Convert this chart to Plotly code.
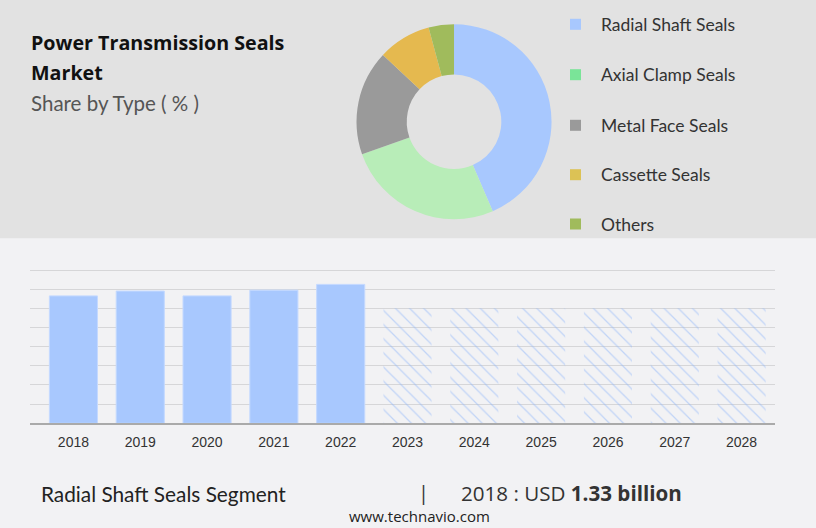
import plotly.graph_objects as go

# Donut data: share by type (%)
segments = ["Radial Shaft Seals", "Axial Clamp Seals", "Metal Face Seals", "Cassette Seals", "Others"]
shares = [43.5, 26.1, 17.4, 8.8, 4.2]
slice_colors = ["#a8c8fe", "#b8edb8", "#9a9a9a", "#e5b94f", "#a0bb5c"]
legend_colors = ["#a8c8fe", "#7ae498", "#9a9a9a", "#dcc255", "#a0bb5c"]

# Bar data: market size of the segment (USD billion)
years = ["2018", "2019", "2020", "2021", "2022"]
values = [1.33, 1.38, 1.33, 1.39, 1.45]
forecast_years = ["2023", "2024", "2025", "2026", "2027", "2028"]
forecast_values = [1.2, 1.2, 1.2, 1.2, 1.2, 1.2]

fig = go.Figure()

fig.add_trace(go.Pie(
    labels=segments, values=shares, hole=0.485, sort=False,
    direction="clockwise", rotation=0, textinfo="none",
    marker=dict(colors=slice_colors, line=dict(width=0)),
    domain=dict(x=[0.4369, 0.6759], y=[0.5848, 0.9542]),
    showlegend=False, hoverinfo="label+percent",
))

fig.add_trace(go.Bar(
    x=years, y=values, width=0.72,
    marker=dict(color="#a8c8fe", line=dict(color="#c4d9ff", width=1)),
    showlegend=False,
))
fig.add_trace(go.Bar(
    x=forecast_years, y=forecast_values, width=0.72,
    marker=dict(color="rgba(0,0,0,0)", line=dict(width=0),
                pattern=dict(shape="\\", fgcolor="#8fb5fa", bgcolor="rgba(0,0,0,0)",
                             size=10, solidity=0.13)),
    showlegend=False,
))

# top grey panel
shapes = [dict(type="rect", xref="paper", yref="paper", x0=0, x1=1, y0=0.549, y1=1,
               fillcolor="#e2e2e2", line=dict(width=0), layer="below")]


def note(text, x, y, size, color="#222222", family="Lato", xanchor="left"):
    return dict(text=text, xref="paper", yref="paper", x=x / 816, y=1 - y / 528,
                xanchor=xanchor, yanchor="middle", align="left", showarrow=False,
                font=dict(family=family, size=size, color=color))


annotations = [
    note("<b>Power Transmission Seals</b>", 29, 43, 19.7, "#111111", family="Open Sans"),
    note("<b>Market</b>", 29, 72, 19.7, "#111111", family="Open Sans"),
    note("Share by Type ( % )", 29, 103, 20.5, "#555555"),
    note("Radial Shaft Seals Segment", 39, 493, 20.8),
    note("|", 423, 492, 20, "#333333", family="Open Sans", xanchor="center"),
    note("2018 : USD <b>1.33 billion</b>", 459, 493, 20.6, "#333333", family="Open Sans"),
    note("www.technavio.com", 420, 516, 15, family="Open Sans", xanchor="center"),
]

# custom legend for the donut
legend_y = [24.3, 74.7, 125.3, 174.7, 224]
for name, col, ly in zip(segments, legend_colors, legend_y):
    shapes.append(dict(type="rect", xref="paper", yref="paper",
                       x0=570 / 816, x1=581 / 816,
                       y0=1 - (ly + 5.5) / 528, y1=1 - (ly - 5.5) / 528,
                       fillcolor=col, line=dict(width=0)))
    annotations.append(note(name, 599, ly, 17.5, "#333333"))

fig.update_layout(
    width=816, height=528,
    margin=dict(l=0, r=0, t=0, b=0),
    paper_bgcolor="#f2f2f4", plot_bgcolor="rgba(0,0,0,0)",
    barmode="overlay", bargap=0.28,
    shapes=shapes, annotations=annotations,
    xaxis=dict(domain=[30 / 816, 775 / 816], type="category",
               categoryorder="array", categoryarray=years + forecast_years,
               range=[-0.65, 10.5], showgrid=False, ticks="", ticklabelstandoff=5,
               showline=True, linecolor="#aaaaaa", linewidth=1.5,
               tickfont=dict(family="Liberation Sans", size=14, color="#333333")),
    yaxis=dict(domain=[(528 - 423.3) / 528, (528 - 268.1) / 528],
               range=[0, 1.62], dtick=0.2, showticklabels=False,
               showgrid=True, gridcolor="#d6d6d8", gridwidth=1,
               zeroline=False, fixedrange=True),
)

fig.write_html("out.html", config={"displayModeBar": False},
               post_script="document.body.style.margin='0';")
